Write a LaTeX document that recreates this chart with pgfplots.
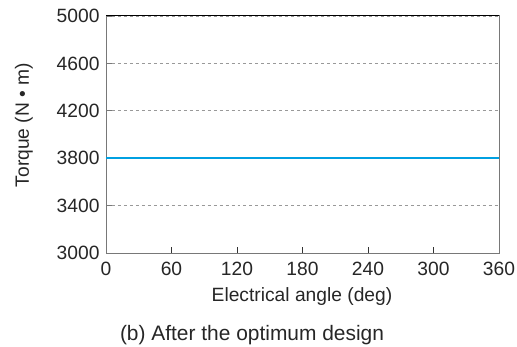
\documentclass[border=0pt]{standalone}
\usepackage{pgfplots}
\pgfplotsset{compat=1.18}
\usepackage{fontspec}
\setmainfont{Liberation Sans}
\definecolor{lineblue}{RGB}{0,160,225}
\definecolor{axgray}{RGB}{120,120,120}
\begin{document}
\begin{tikzpicture}
\useasboundingbox (0,0) rectangle (517bp,347bp);
\begin{axis}[
  at={(106bp,94bp)}, anchor=south west,
  scale only axis, width=393bp, height=237bp,
  xmin=0, xmax=360, ymin=3000, ymax=5000,
  xtick={0,60,...,360}, ytick={3000,3400,...,5000},
  tick align=inside,
  xtick pos=bottom, ytick pos=left,
  xtick style={black!80, line width=0.9pt},
  ytick style={axgray, line width=0.9pt},
  major tick length=6bp,
  axis line style={axgray, line width=1pt},
  ymajorgrids, grid style={dashed, gray!80, line width=0.6pt},
  /pgf/number format/assume math mode=true,
  /pgf/number format/1000 sep={},
  tick label style={font=\fontsize{19.3}{22}\selectfont, text=black!85},
  xticklabel style={yshift=-6bp},
  yticklabel style={xshift=-3bp},
  clip=false,
]
\addplot[lineblue, line width=1.6pt] coordinates {(0,3800) (360,3800)};
\draw[black, line width=1pt] (axis cs:0,5000) -- (axis cs:360,5000);
\end{axis}
\node[font=\fontsize{19.3}{22}\selectfont, text=black!85] at (302bp,50bp) {Electrical angle (deg)};
\node[font=\fontsize{19.3}{22}\selectfont, text=black!85, rotate=90] at (24bp,222bp) {Torque (N • m)};
\node[font=\fontsize{21}{24}\selectfont, text=black!85] at (252bp,12bp) {(b) After the optimum design};
\end{tikzpicture}
\end{document}
